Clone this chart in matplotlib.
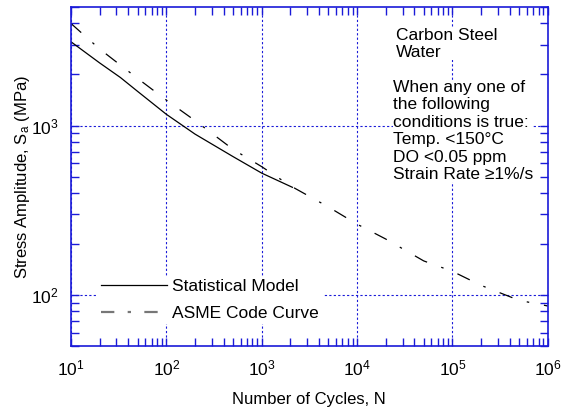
import matplotlib
matplotlib.use('Agg')
import matplotlib.pyplot as plt
from matplotlib.lines import Line2D
from matplotlib.ticker import LogLocator, LogFormatterSciNotation, NullFormatter

plt.rcParams['font.family'] = ['Liberation Sans', 'DejaVu Sans']
plt.rcParams['mathtext.fontset'] = 'custom'
plt.rcParams['mathtext.rm'] = 'Liberation Sans'
plt.rcParams['mathtext.it'] = 'Liberation Sans:italic'
plt.rcParams['mathtext.default'] = 'regular'

# statistical model, carbon steel in water
stat_cycles = [10, 20, 33, 50, 100, 200, 500, 1000, 2100]
stat_stress = [3120, 2340, 1920, 1590, 1165, 890, 656, 524, 432]

# ASME code design curve, carbon steel
asme_cycles = [10, 20, 50, 100, 200, 500, 1000, 2000, 5000, 1e4, 2e4, 5e4, 1e5, 2e5, 5e5, 1e6]
asme_stress = [4000, 2827, 1896, 1413, 1069, 724, 572, 441, 331, 262, 214, 159, 138, 114, 93.1, 86.2]

blue = '#1a1ad8'

fig = plt.figure(figsize=(5.63, 4.13), dpi=100)
ax = fig.add_axes([0.126, 0.162, 0.847, 0.821])

ax.plot(stat_cycles, stat_stress, color='black', lw=0.9)
ax.plot(asme_cycles, asme_stress, color='black', lw=0.9, dashes=(11, 12, 2, 12))

ax.set_xscale('log')
ax.set_yscale('log')
ax.set_xlim(10, 1e6)
ax.set_ylim(50, 5000)

ax.xaxis.set_major_locator(LogLocator(base=10, numticks=10))
ax.xaxis.set_minor_locator(LogLocator(base=10, subs=range(2, 10), numticks=20))
ax.yaxis.set_major_locator(LogLocator(base=10, numticks=10))
ax.yaxis.set_minor_locator(LogLocator(base=10, subs=range(2, 10), numticks=20))
ax.xaxis.set_major_formatter(LogFormatterSciNotation())
ax.yaxis.set_major_formatter(LogFormatterSciNotation())
ax.xaxis.set_minor_formatter(NullFormatter())
ax.yaxis.set_minor_formatter(NullFormatter())

ax.grid(True, which='major', color=blue, linestyle=(0, (2, 2)), lw=0.8)
for s in ax.spines.values():
    s.set_color(blue)
    s.set_linewidth(1.2)
ax.tick_params(which='both', direction='in', top=True, right=True, color=blue,
               labelsize=12.5, labelcolor='black')
ax.tick_params(which='major', length=6, width=1, pad=9)
ax.tick_params(which='minor', length=6, width=1)

ax.set_xlabel('Number of Cycles, N', fontsize=12, labelpad=10)
ax.set_ylabel('Stress Amplitude, S$_a$ (MPa)', fontsize=12, labelpad=-1)

box = dict(facecolor='white', edgecolor='none', pad=0)
ax.text(0.681, 0.938, 'Carbon Steel\nWater', transform=ax.transAxes, fontsize=12.5,
        va='top', ha='left', linespacing=1.2, bbox=box)
ax.text(0.675, 0.785,
        'When any one of\nthe following\nconditions is true:\nTemp. <150°C\nDO <0.05 ppm\nStrain Rate ≥1%/s',
        transform=ax.transAxes, fontsize=12.5, va='top', ha='left', linespacing=1.2, bbox=box)

handles = [Line2D([], [], color='black', lw=0.9),
           Line2D([], [], color='#777777', lw=1.6, dashes=(6, 6, 1.5, 6))]
leg = ax.legend(handles, ['Statistical Model', 'ASME Code Curve'], loc='upper left',
                bbox_to_anchor=(0.038, 0.233), fontsize=12.5, handlelength=3.8,
                handletextpad=0.3, labelspacing=0.65, borderpad=0.2,
                frameon=True, fancybox=False, edgecolor='none', framealpha=1)

fig.savefig('out.png', dpi=100)
